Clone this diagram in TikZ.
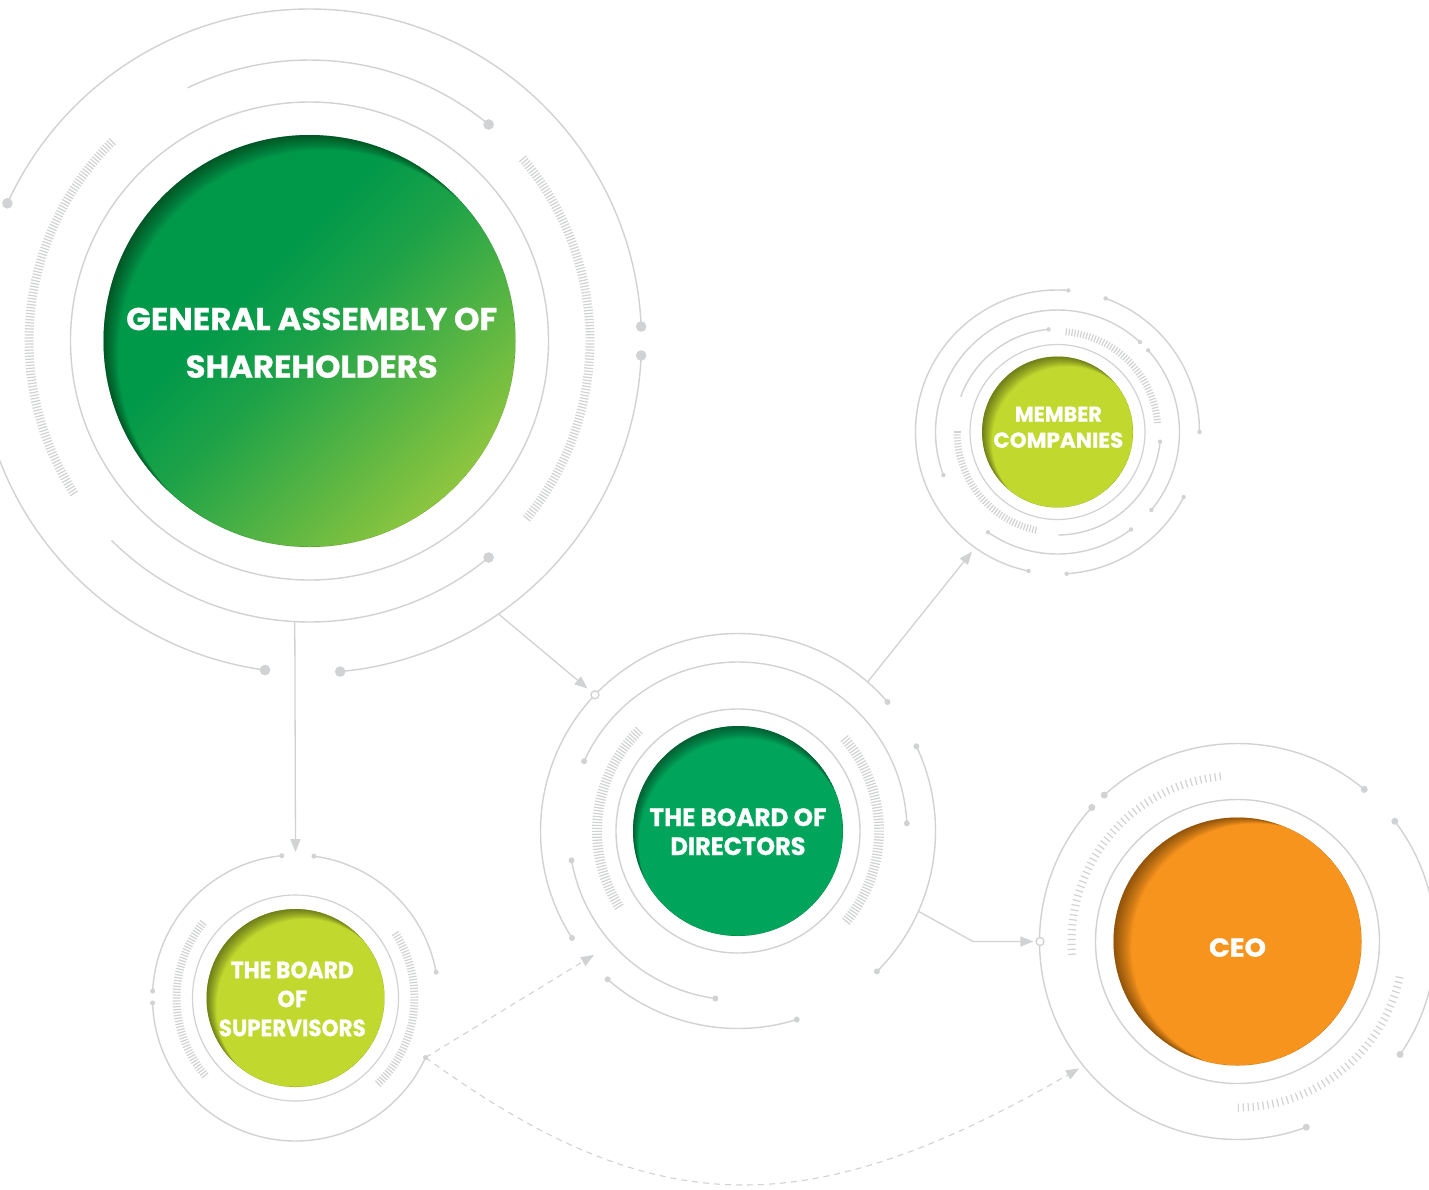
\documentclass[tikz,border=0pt]{standalone}
\usepackage{fontspec}
\setmainfont{Poppins}[BoldFeatures={FakeBold=0.8}]
\usepackage{graphicx}
\usetikzlibrary{arrows.meta,calc}
\definecolor{lg}{HTML}{D1D2D3}
\definecolor{gaA}{HTML}{00994A}
\definecolor{gaB}{HTML}{8DC63F}
\definecolor{lime}{HTML}{C1D82F}
\definecolor{bdg}{HTML}{00A55B}
\definecolor{ceoc}{HTML}{F7941D}
\pgfdeclareverticalshading{gashade}{100bp}{color(0bp)=(gaB); color(25bp)=(gaB); color(50bp)=(gaA!80!gaB); color(60bp)=(gaA); color(100bp)=(gaA)}
\newlength\fitlen
\newcommand\fitto[2]{\settowidth{\fitlen}{#2}\pgfmathsetmacro\fitscl{#1/\fitlen}\scalebox{\fitscl}[1]{#2}}
\newcommand\rarc[4]{\draw[ring] ([shift={(#3:#2)}]#1) arc[start angle=#3, end angle=#4, radius=#2];}
\newcommand\rdot[4]{\fill[lg] ([shift={(#3:#2)}]#1) circle[radius=#4];}
\newcommand\hatch[6]{\foreach \i in {0,...,#6}{\pgfmathsetmacro\ang{#4+(#5-#4)*\i/#6}\draw[tick] ([shift={(\ang:#2)}]#1) -- ([shift={(\ang:#3)}]#1);}}
\tikzset{
  ring/.style={draw=lg, line width=1.4pt},
  tick/.style={draw=lg, line width=1.2pt},
  disk/.style={circle, inner sep=0pt, draw=none},
  inshadow/.style n args={3}{path picture={
    \foreach \k in {1,...,20}{
      \fill[black, opacity=0.022, even odd rule] (path picture bounding box.center) circle[radius=#3]
        ([shift={({\k*#1},{\k*#2})}]path picture bounding box.center) circle[radius=#3];
    }}},
  txt/.style={text=white, align=center, inner sep=0pt},
  conn/.style={draw=lg, line width=1.3pt, -{Triangle[length=13pt, width=10pt, fill=lg]}},
  dconn/.style={draw=lg, line width=1.1pt, dash pattern=on 6pt off 5pt, -{Triangle[length=13pt, width=10pt, fill=lg]}},
  opencirc/.style={circle, draw=lg, fill=white, line width=1.3pt, minimum size=8pt, inner sep=0pt}
}
\begin{document}
\begin{tikzpicture}[x=1pt,y=1pt]
\useasboundingbox (0,0) rectangle (1429,-1189);
\fill[white] (0,0) rectangle (1429,-1189);
\clip (0,0) rectangle (1429,-1189);

% ---------------- disks ----------------
\node[disk, minimum size=412pt, shade, shading=gashade, shading angle=45, inshadow={0.75}{-0.75}{206}] (ga) at (309.5,-341) {};
\node[disk, minimum size=151pt, fill=lime, inshadow={0.5}{-0.5}{75.5}] (mc) at (1057.5,-432) {};
\node[disk, minimum size=210pt, fill=bdg, inshadow={0.3}{-0.65}{105}] (bd) at (738,-831) {};
\node[disk, minimum size=248pt, fill=ceoc, inshadow={0.9}{-0.3}{124}] (ceo) at (1237.5,-941.5) {};
\node[disk, minimum size=178pt, fill=lime, inshadow={0.5}{-0.5}{89}] (bs) at (295.5,-998) {};

% ---------------- GA rings ----------------
\draw[ring] (ga.center) circle[radius=239];
\rarc{ga.center}{281}{50.4}{115.7} \rdot{ga.center}{281}{50.4}{5.3}
\rarc{ga.center}{281}{225.2}{309.6} \rdot{ga.center}{281}{309.6}{5.3}
\hatch{ga.center}{276}{285}{134.7}{212.9}{126}
\hatch{ga.center}{276}{285}{-39.2}{40.5}{128}
\rarc{ga.center}{332}{2.5}{155.5} \rdot{ga.center}{332}{2.5}{5.3} \rdot{ga.center}{332}{155.5}{5.3}
\rarc{ga.center}{332}{275.3}{357.5} \rdot{ga.center}{332}{275.3}{5.3} \rdot{ga.center}{332}{357.5}{5.3}
\rarc{ga.center}{332}{195}{262.3} \rdot{ga.center}{332}{262.3}{5.3}

% ---------------- MC rings ----------------
\draw[ring, line width=1.2pt] (mc.center) circle[radius=87.5];
\rarc{mc.center}{103}{95}{160} \rdot{mc.center}{103}{95}{2.2}
\rarc{mc.center}{103}{270.5}{354.6} \rdot{mc.center}{103}{354.6}{2.2}
\hatch{mc.center}{97}{104}{5.5}{85}{47}
\hatch{mc.center}{97}{104}{180}{257.5}{46}
\rarc{mc.center}{122}{47.5}{200.7} \rdot{mc.center}{122}{47.5}{2.2} \rdot{mc.center}{122}{200.7}{2.2}
\rarc{mc.center}{122}{-39.7}{42} \rdot{mc.center}{122}{-39.7}{2.2} \rdot{mc.center}{122}{42}{2.2}
\rarc{mc.center}{122}{235.3}{307} \rdot{mc.center}{122}{235.3}{2.2} \rdot{mc.center}{122}{307}{2.2}
\rarc{mc.center}{142}{85.6}{258.2} \rdot{mc.center}{142}{85.6}{2.2} \rdot{mc.center}{142}{258.2}{2.2}
\rarc{mc.center}{142}{0}{70.2} \rdot{mc.center}{142}{0}{2.2} \rdot{mc.center}{142}{70.2}{2.2}
\rarc{mc.center}{142}{273.7}{332.7} \rdot{mc.center}{142}{273.7}{2.2} \rdot{mc.center}{142}{332.7}{2.2}

% ---------------- BD rings ----------------
\draw[ring] (bd.center) circle[radius=122];
\hatch{bd.center}{136}{146}{134.6}{212.5}{65}
\hatch{bd.center}{136}{146}{-39.8}{40.9}{67}
\rarc{bd.center}{169}{2.6}{155.6} \rdot{bd.center}{169}{2.6}{3} \rdot{bd.center}{169}{155.6}{3}
\rarc{bd.center}{169}{190}{262.3} \rdot{bd.center}{169}{190}{3} \rdot{bd.center}{169}{262.3}{3}
\rarc{bd.center}{197.5}{40.8}{212.8} \rdot{bd.center}{197.5}{40.8}{3} \rdot{bd.center}{197.5}{212.8}{3}
\rarc{bd.center}{197.5}{-45.3}{25.4} \rdot{bd.center}{197.5}{-45.3}{3} \rdot{bd.center}{197.5}{25.4}{3}
\rarc{bd.center}{197.5}{228.7}{287.3} \rdot{bd.center}{197.5}{228.7}{3} \rdot{bd.center}{197.5}{287.3}{3}

% ---------------- CEO rings ----------------
\draw[ring] (ceo.center) circle[radius=142];
\hatch{ceo.center}{162}{170}{96}{184.4}{52}
\hatch{ceo.center}{162}{170}{-89.7}{-12.5}{45}
\rarc{ceo.center}{198}{50.2}{132.3} \rdot{ceo.center}{198}{50.2}{3.5} \rdot{ceo.center}{198}{132.3}{3.5}
\rarc{ceo.center}{198}{137.4}{290.3} \rdot{ceo.center}{198}{137.4}{3.5} \rdot{ceo.center}{198}{290.3}{3.5}
\rarc{ceo.center}{198}{-34.8}{37.4} \rdot{ceo.center}{198}{-34.8}{3.5} \rdot{ceo.center}{198}{37.4}{3.5}

% ---------------- BS rings ----------------
\draw[ring, line width=1.2pt] (bs.center) circle[radius=103];
\hatch{bs.center}{115}{123}{140.9}{220.5}{57}
\hatch{bs.center}{115}{123}{-46}{32.8}{56}
\rarc{bs.center}{143}{95.5}{177.2} \rdot{bs.center}{143}{95.5}{2.5} \rdot{bs.center}{143}{177.2}{2.5}
\rarc{bs.center}{143}{182}{335.4} \rdot{bs.center}{143}{182}{2.5} \rdot{bs.center}{143}{335.4}{2.5}
\rarc{bs.center}{143}{10.4}{82.6} \rdot{bs.center}{143}{10.4}{2.5} \rdot{bs.center}{143}{82.6}{2.5}

% ---------------- connectors ----------------
\coordinate (gaS) at ([shift={(-93:281)}]ga.center);
\coordinate (bsN) at ([shift={(90:146)}]bs.center);
\draw[conn] (gaS) -- (bsN);

\coordinate (gaE) at ([shift={(-55.3:332)}]ga.center);
\node[opencirc] (bdin) at ([shift={(136.4:197.5)}]bd.center) {};
\draw[conn, shorten >=5pt] (gaE) -- (bdin);

\coordinate (bdNE) at ([shift={(49:198)}]bd.center);
\coordinate (mcSW) at ([shift={(234.4:147)}]mc.center);
\draw[conn] (bdNE) -- (mcSW);

\coordinate (bdSE) at ([shift={(-24:198)}]bd.center);
\coordinate (bend) at (973,-941.5);
\node[opencirc] (ceoin) at ([shift={(180:197.5)}]ceo.center) {};
\draw[conn, shorten >=2pt] (bdSE) -- (bend) -- (ceoin);

\coordinate (bsSE) at ([shift={(-24.6:143)}]bs.center);
\coordinate (bdSW) at ([shift={(220.7:190)}]bd.center);
\coordinate (ceoSW) at ([shift={(218.7:203)}]ceo.center);
\draw[dconn] (bsSE) -- (bdSW);
\draw[dconn] (bsSE) .. controls +(230,-167) and +(-271,-156) .. (ceoSW);

% ---------------- texts ----------------
\node[txt, font=\bfseries\fontsize{31.5}{47.6}\selectfont] (gat) at (311.7,-342.8) {\fitto{371}{GENERAL ASSEMBLY OF}\\\fitto{252}{SHAREHOLDERS}};
\node[txt, font=\bfseries\fontsize{21.5}{26}\selectfont] (mct) at (1058.3,-427.2) {\fitto{87}{MEMBER}\\\fitto{130}{COMPANIES}};
\node[txt, font=\bfseries\fontsize{25}{29}\selectfont] (bdt) at (738,-831.7) {\fitto{177}{THE BOARD OF}\\\fitto{135}{DIRECTORS}};
\node[txt, font=\bfseries\fontsize{26}{30}\selectfont] (ceot) at (1237.5,-947.5) {\fitto{57}{CEO}};
\node[txt, font=\bfseries\fontsize{23.5}{29}\selectfont] (bst) at (292.3,-998.9) {\fitto{123}{THE BOARD}\\\fitto{30}{OF}\\\fitto{147}{SUPERVISORS}};
\end{tikzpicture}
\end{document}
